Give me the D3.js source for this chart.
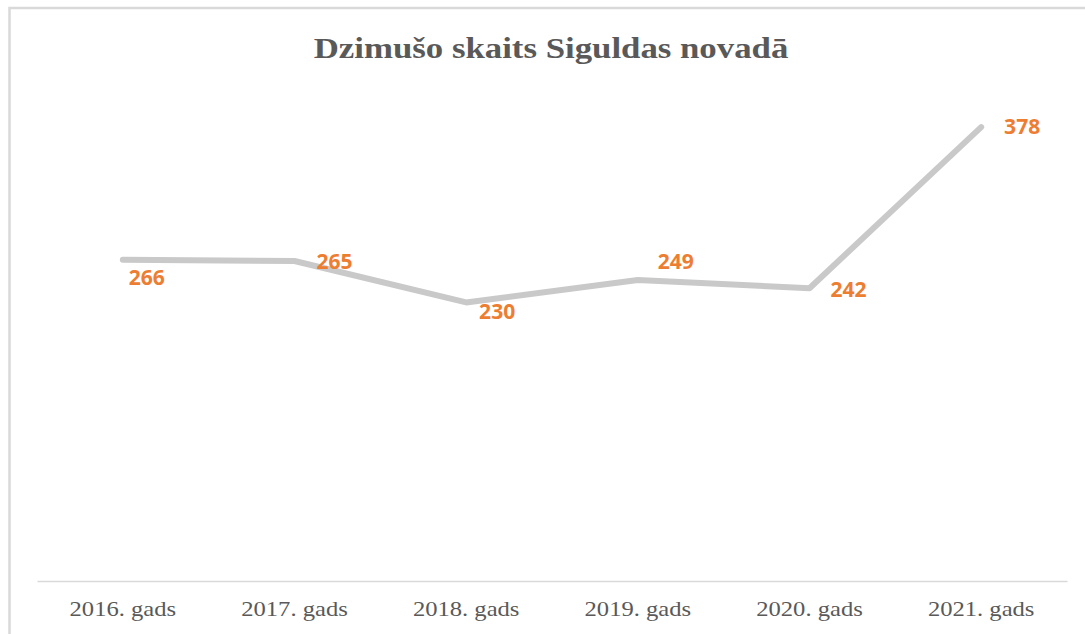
<!DOCTYPE html>
<html>
<head>
<meta charset="utf-8">
<script src="https://cdn.jsdelivr.net/npm/d3@7"></script>
<style>
  body { margin: 0; background: #fff; }
</style>
</head>
<body>
<div></div>
<script>
const years = ["2016. gads", "2017. gads", "2018. gads", "2019. gads", "2020. gads", "2021. gads"];
const births = [266, 265, 230, 249, 242, 378];
const yDomain = [0, 400];
const title = "Dzimušo skaits Siguldas novadā";

// where each data label sits, relative to its point (dx = text centre, dy = baseline)
const labelOffsets = [[24, 25], [40, 8], [31, 17], [38, -11], [39, 9], [41, 7]];

const width = 1085, height = 634;
const grey = "#595959";
const stretch = 1.2; // source picture is a bit wider than tall

const svg = d3.select('div')
    .append('svg')
    .attr('width', width)
    .attr('height', height)
    .style('display', 'block');

// chart frame (only top and left edges are visible in the crop)
svg.append('rect')
    .attr('x', 9.5)
    .attr('y', 8)
    .attr('width', width + 20)
    .attr('height', height + 20)
    .attr('fill', '#fff')
    .attr('stroke', '#d9d9d9')
    .attr('stroke-width', 2.5);

const x = d3.scaleBand()
    .domain(years)
    .range([37, 1067])
    .padding(0);

const y = d3.scaleLinear()
    .domain(yDomain)
    .range([575, 101]);

// title
svg.append('text')
    .attr('transform', `translate(551,58) scale(${stretch},1)`)
    .attr('text-anchor', 'middle')
    .style('font-family', '"Liberation Serif", "Times New Roman", serif')
    .style('font-weight', 'bold')
    .style('font-size', '29px')
    .style('fill', grey)
    .text(title);

// x axis
const xAxis = svg.append('g')
    .attr('transform', 'translate(0,581)')
    .call(d3.axisBottom(x).tickSize(0).tickPadding(0));

xAxis.select('.domain')
    .attr('stroke', '#d9d9d9')
    .attr('stroke-width', 1.5);

xAxis.selectAll('.tick text')
    .attr('y', 0)
    .attr('dy', 0)
    .attr('transform', `translate(0,35) scale(${stretch},1)`)
    .style('font-family', '"Liberation Serif", "Times New Roman", serif')
    .style('font-size', '20.5px')
    .style('fill', grey);

// line
const line = d3.line()
    .x((d, i) => x(years[i]) + x.bandwidth() / 2)
    .y(d => y(d));

svg.append('path')
    .datum(births)
    .attr('d', line)
    .attr('fill', 'none')
    .attr('stroke', '#c9c9c9')
    .attr('stroke-width', 6)
    .attr('stroke-linejoin', 'round')
    .attr('stroke-linecap', 'round');

// data labels
svg.append('g')
    .selectAll('text')
    .data(births)
    .join('text')
    .attr('transform', (d, i) => {
        const px = x(years[i]) + x.bandwidth() / 2 + labelOffsets[i][0];
        const py = y(d) + labelOffsets[i][1];
        return `translate(${px},${py}) scale(1.03,1)`;
    })
    .attr('text-anchor', 'middle')
    .style('font-family', '"Open Sans", sans-serif')
    .style('font-weight', 'bold')
    .style('font-size', '20.5px')
    .style('fill', '#ed7d31')
    .text(d => d);
</script>
</body>
</html>
